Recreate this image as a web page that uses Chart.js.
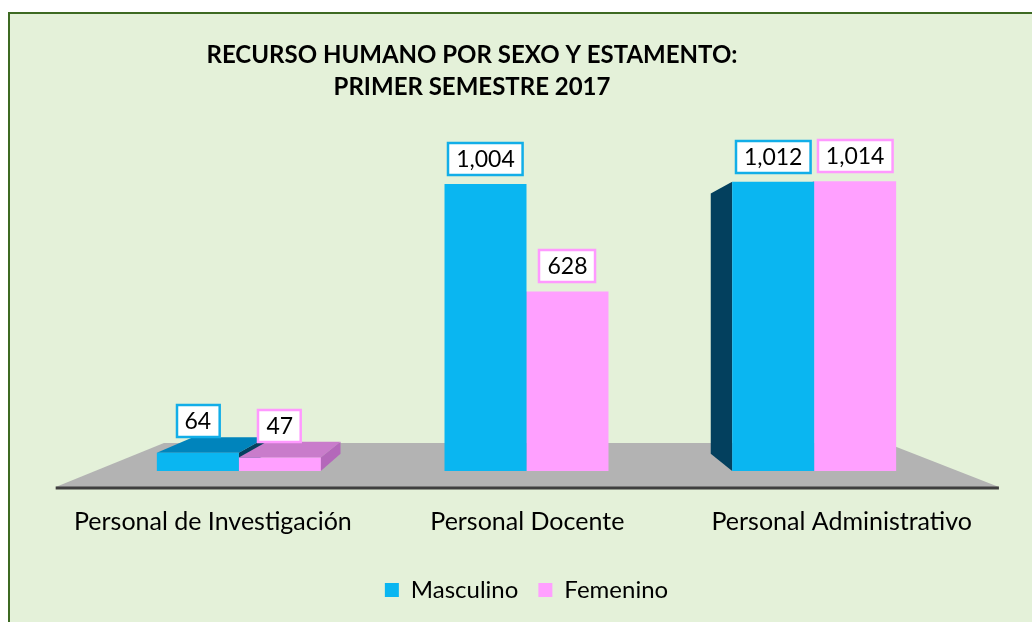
<!DOCTYPE html>
<html>
<head>
<meta charset="utf-8">
<script src="https://cdn.jsdelivr.net/npm/chart.js@4.4.0/dist/chart.umd.min.js"></script>
<style>
  html, body { margin: 0; padding: 0; background: #fff; }
  #wrap { width: 1032px; height: 622px; }
</style>
</head>
<body>
<div id="wrap"><canvas id="chart" width="1032" height="622"></canvas></div>
<script>
const categories = ['Personal de Investigación', 'Personal Docente', 'Personal Administrativo'];
const masculino = [64, 1004, 1012];
const femenino = [47, 628, 1014];
const seriesNames = ['Masculino', 'Femenino'];
const titleLines = ['RECURSO HUMANO POR SEXO Y ESTAMENTO:', 'PRIMER SEMESTRE 2017'];

const FONT = 'Lato, "Open Sans", sans-serif';
const blue = '#0ab6f1';
const pink = '#ffa0ff';
// darker faces for the fake 3d look
const faces = [
  { top: '#0084bc', side: '#03405e', border: '#12aee8' },
  { top: '#c97ccb', side: '#b468ba', border: '#ff99ff' }
];

// vanishing point, relative to the chart area
const view = { cx: 0.49, rise: 172, depth: 0.1, front: 1.093, back: 0.837 };

function vanish(chart) {
  const a = chart.chartArea;
  return { x: a.left + (a.right - a.left) * view.cx, y: a.bottom - view.rise };
}
function toward(vp, x, y, s) {
  return [vp.x + (x - vp.x) * s, vp.y + (y - vp.y) * s];
}
function poly(ctx, pts, color) {
  ctx.beginPath();
  ctx.moveTo(pts[0][0], pts[0][1]);
  for (let i = 1; i < pts.length; i++) ctx.lineTo(pts[i][0], pts[i][1]);
  ctx.closePath();
  ctx.fillStyle = color;
  ctx.fill();
}

const scene = {
  id: 'scene',
  beforeDraw(chart) {
    const { ctx, width, height } = chart;
    ctx.save();
    ctx.fillStyle = '#ffffff';
    ctx.fillRect(0, 0, width, height);
    ctx.fillStyle = '#e4f1d9';
    ctx.fillRect(8, 12, width, height);
    ctx.strokeStyle = '#3d6a22';
    ctx.lineWidth = 2;
    ctx.strokeRect(9, 13, width + 10, height + 10);

    ctx.fillStyle = '#000';
    ctx.font = 'bold 24px ' + FONT;
    ctx.textAlign = 'center';
    ctx.textBaseline = 'middle';
    ctx.fillText(titleLines[0], 472, 55);
    ctx.fillText(titleLines[1], 472, 87);
    ctx.restore();
  },
  beforeDatasetsDraw(chart) {
    const { ctx, chartArea: a } = chart;
    const vp = vanish(chart);
    ctx.save();

    // floor
    const fl = toward(vp, a.left, a.bottom, view.front);
    const fr = toward(vp, a.right, a.bottom, view.front);
    const bl = toward(vp, a.left, a.bottom, view.back);
    const br = toward(vp, a.right, a.bottom, view.back);
    poly(ctx, [bl, br, fr, fl], '#b3b3b3');
    ctx.strokeStyle = '#3f3f3f';
    ctx.lineWidth = 3;
    ctx.beginPath();
    ctx.moveTo(fl[0], fl[1] + 1);
    ctx.lineTo(fr[0], fr[1] + 1);
    ctx.stroke();

    // category labels sit on the front edge of the floor
    ctx.fillStyle = '#000';
    ctx.font = '25px ' + FONT;
    ctx.textAlign = 'center';
    ctx.textBaseline = 'middle';
    const xs = chart.scales.x;
    categories.forEach((c, i) => {
      const p = toward(vp, xs.getPixelForValue(i), a.bottom, view.front);
      ctx.fillText(c, p[0], p[1] + 35);
    });

    // side and top faces of each bar, farthest from the centre first
    const bars = [];
    chart.data.datasets.forEach((ds, d) => {
      chart.getDatasetMeta(d).data.forEach(el => bars.push({ el, d }));
    });
    bars.sort((p, q) => Math.abs(q.el.x - vp.x) - Math.abs(p.el.x - vp.x));
    const s = 1 - view.depth;
    bars.forEach(({ el, d }) => {
      const L = el.x - el.width / 2, R = el.x + el.width / 2;
      const T = el.y, B = el.base;
      if (L > vp.x) {
        poly(ctx, [[L, T], toward(vp, L, T, s), toward(vp, L, B, s), [L, B]], faces[d].side);
      }
      if (R < vp.x) {
        poly(ctx, [[R, T], toward(vp, R, T, s), toward(vp, R, B, s), [R, B]], faces[d].side);
      }
      if (T > vp.y) {
        poly(ctx, [[L, T], [R, T], toward(vp, R, T, s), toward(vp, L, T, s)], faces[d].top);
      }
    });
    ctx.restore();
  },
  afterDatasetsDraw(chart) {
    const { ctx } = chart;
    const vp = vanish(chart);
    const s = 1 - view.depth;
    ctx.save();
    ctx.font = '23px ' + FONT;
    ctx.textAlign = 'center';
    ctx.textBaseline = 'middle';
    chart.data.datasets.forEach((ds, d) => {
      chart.getDatasetMeta(d).data.forEach((el, i) => {
        const txt = ds.data[i].toLocaleString('en-US');
        const backTop = toward(vp, el.x, el.y, s)[1];
        const bottom = Math.min(el.y - 9, backTop);
        const w = ctx.measureText(txt).width + 16, h = 32;
        const x0 = Math.round(el.x - w / 2), y0 = Math.round(bottom - h);
        ctx.fillStyle = '#fff';
        ctx.fillRect(x0, y0, w, h);
        ctx.strokeStyle = faces[d].border;
        ctx.lineWidth = 2.5;
        ctx.strokeRect(x0, y0, w, h);
        ctx.fillStyle = '#000';
        ctx.fillText(txt, el.x, y0 + h / 2 + 1);
      });
    });
    ctx.restore();
  }
};

new Chart(document.getElementById('chart'), {
  type: 'bar',
  data: {
    labels: categories,
    datasets: [
      { label: seriesNames[0], data: masculino, backgroundColor: blue, borderWidth: 0 },
      { label: seriesNames[1], data: femenino, backgroundColor: pink, borderWidth: 0 }
    ]
  },
  options: {
    responsive: false,
    animation: false,
    events: [],
    layout: { padding: { top: 128, left: 95, right: 74, bottom: 10 } },
    categoryPercentage: 0.57,
    barPercentage: 1,
    plugins: {
      title: { display: false },
      tooltip: { enabled: false },
      legend: {
        position: 'bottom',
        labels: {
          color: '#000',
          font: { family: FONT, size: 24 },
          boxWidth: 14,
          boxHeight: 14,
          padding: 20
        }
      }
    },
    scales: {
      x: {
        grid: { display: false },
        border: { display: false },
        ticks: { display: false },
        afterFit(scale) { scale.height = 87; }
      },
      y: { display: false, min: 0, max: 1200 }
    }
  },
  plugins: [scene]
});
</script>
</body>
</html>
